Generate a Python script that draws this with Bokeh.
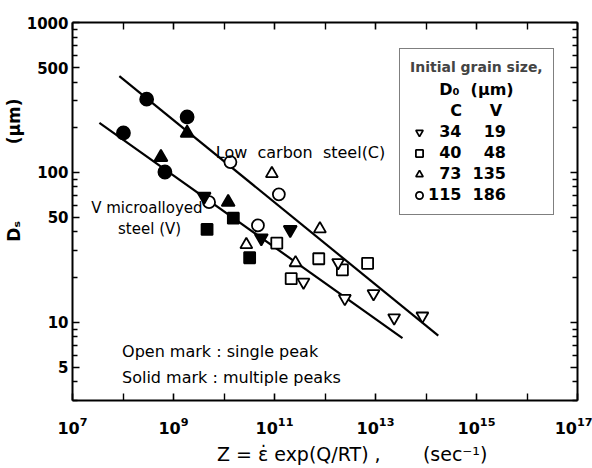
from bokeh.plotting import figure
from bokeh.models import (Range1d, LogAxis, FixedTicker, NumeralTickFormatter,
                          Label, Legend, LegendItem)
from bokeh.embed import file_html
from bokeh.resources import INLINE

# ---------------- data ----------------
# Z = strain rate * exp(Q/RT)  [1/s],  Ds = steady-state grain size [um]
open_circle_z = [1.34e10, 1.22e11, 5.06e9, 4.70e10]
open_circle_d = [117, 71.3, 63.2, 44.2]
solid_circle_z = [2.94e8, 1.86e9, 1.02e8, 6.76e8]
solid_circle_d = [308, 234, 183, 100.5]

open_tri_z = [8.87e10, 7.93e11, 2.77e10, 2.61e11]
open_tri_d = [98, 41.9, 32.9, 24.9]
solid_tri_z = [1.86e9, 5.64e8, 1.21e10]
solid_tri_d = [183, 126, 63.2]

open_sq_z = [7.52e11, 2.21e12, 6.97e12, 1.11e11, 2.14e11]
open_sq_d = [26.5, 22.3, 24.7, 33.7, 19.5]
solid_sq_z = [1.53e10, 4.62e9, 3.22e10]
solid_sq_d = [49.4, 41.6, 26.9]

open_inv_z = [1.82e12, 9.14e12, 8.49e13, 3.75e11, 2.47e12, 2.34e13]
open_inv_d = [25.0, 15.5, 11.0, 18.5, 14.4, 10.7]
solid_inv_z = [2.05e11, 4.04e9, 5.48e10]
solid_inv_d = [41.4, 69.0, 36.4]

# fitted lines
line_c_z = [8.47e7, 1.75e14]
line_c_d = [439, 8.13]
line_v_z = [3.41e7, 3.42e13]
line_v_d = [214, 7.83]

# legend values: initial grain size D0 (um)
legend_c = ["34", "40", "73", "115"]
legend_v = ["19", "48", "135", "186"]

# ticks
x_major = [10.0 ** e for e in (7, 9, 11, 13, 15, 17)]
x_minor = [10.0 ** e for e in (8, 10, 12, 14, 16)]
y_major = [5, 10, 50, 100, 500, 1000]
y_minor = [3, 4, 6, 7, 8, 9, 20, 30, 40, 60, 70, 80, 90,
           200, 300, 400, 600, 700, 800, 900]

FONT = "DejaVu Sans"
NB = "\u00a0"
FS = "\u2007"   # figure space (digit width)

p = figure(width=592, height=468, x_axis_type="log", y_axis_type="log",
           x_range=Range1d(1e7, 1e17), y_range=Range1d(3, 1000),
           output_backend="svg", toolbar_location=None,
           min_border_left=72, min_border_right=15,
           min_border_top=22, min_border_bottom=68,
           background_fill_color="white", border_fill_color="white",
           outline_line_color=None)
p.grid.visible = False

xt = FixedTicker(ticks=x_major, minor_ticks=x_minor)
yt = FixedTicker(ticks=y_major, minor_ticks=y_minor)

def style_axis(ax, labels=True):
    ax.axis_line_color = "black"
    ax.axis_line_width = 2
    ax.major_tick_line_color = "black"
    ax.major_tick_line_width = 1.6
    ax.minor_tick_line_color = "black"
    ax.minor_tick_line_width = 1.4
    ax.major_tick_in = 7
    ax.major_tick_out = 0
    ax.minor_tick_in = 5
    ax.minor_tick_out = 0
    ax.major_label_text_font = FONT
    ax.major_label_text_font_style = "bold"
    ax.major_label_text_color = "black"
    if not labels:
        ax.major_label_text_font_size = "1px"
        ax.major_label_text_color = None
        ax.major_label_standoff = 0

xa = p.xaxis[0]
xa.ticker = xt
style_axis(xa)
xa.minor_tick_in = 7
xa.major_label_text_font_size = "16px"
xa.major_label_standoff = 16
xa.axis_label = NB * 9 + "Z = \u03b5\u0307 exp(Q/RT) ," + NB * 7 + "(sec\u207b\u00b9)"
xa.axis_label_text_font = FONT
xa.axis_label_text_font_size = "19px"
xa.axis_label_text_font_style = "normal"
xa.axis_label_text_color = "black"
xa.axis_label_standoff = 6

ya = p.yaxis[0]
ya.ticker = yt
ya.formatter = NumeralTickFormatter(format="0")
style_axis(ya)
ya.major_label_text_font_size = "15px"
ya.major_label_standoff = 4
ya.axis_label = NB * 14 + "D\u209b" + NB * 13 + "(\u00b5m)"
ya.axis_label_text_font = FONT
ya.axis_label_text_font_size = "17px"
ya.axis_label_text_font_style = "bold"
ya.axis_label_text_color = "black"
ya.axis_label_standoff = 0

top = LogAxis(ticker=xt)
style_axis(top, labels=False)
top.minor_tick_in = 7
p.add_layout(top, "above")

right = LogAxis(ticker=yt)
style_axis(right, labels=False)
p.add_layout(right, "right")

# fitted lines
p.line(line_c_z, line_c_d, line_color="black", line_width=2.2)
p.line(line_v_z, line_v_d, line_color="black", line_width=2.2)

def pts(z, d, marker, filled, size):
    return p.scatter(z, d, marker=marker, size=size,
                     fill_color="black" if filled else "white",
                     line_color="black", line_width=1.8)

r_oc = pts(open_circle_z, open_circle_d, "circle", False, 12)
pts(solid_circle_z, solid_circle_d, "circle", True, 13)
r_ot = pts(open_tri_z, open_tri_d, "triangle", False, 12)
pts(solid_tri_z, solid_tri_d, "triangle", True, 13)
r_os = pts(open_sq_z, open_sq_d, "square", False, 11)
pts(solid_sq_z, solid_sq_d, "square", True, 11)
r_oi = pts(open_inv_z, open_inv_d, "inverted_triangle", False, 12)
pts(solid_inv_z, solid_inv_d, "inverted_triangle", True, 13)

# invisible renderer for legend header rows
r_blank = p.scatter([1e7], [3], marker="circle", size=1,
                    fill_alpha=0, line_alpha=0)

def row(c, v):
    return FS * (3 - len(c)) + c + NB * 2 + FS * (3 - len(v)) + v

items = [
    LegendItem(label=FS + "D\u2080" + NB * 2 + "(\u00b5m)", renderers=[r_blank]),
    LegendItem(label=FS + NB * 2 + "C" + NB * 5 + "V", renderers=[r_blank]),
]
for r, c, v in zip([r_oi, r_os, r_ot, r_oc], legend_c, legend_v):
    items.append(LegendItem(label=row(c, v), renderers=[r]))

legend = Legend(items=items, title="Initial grain size,",
                location=(327, 185), orientation="vertical",
                border_line_color="black", border_line_width=1.8,
                background_fill_color="white", background_fill_alpha=1,
                padding=10, spacing=2, margin=0,
                glyph_width=18, glyph_height=18, label_height=18,
                label_standoff=0,
                label_text_font=FONT, label_text_font_style="bold",
                label_text_font_size="16px", label_text_color="black",
                title_text_font=FONT, title_text_font_style="bold",
                title_text_font_size="14px", title_standoff=5)
p.add_layout(legend, "center")

def lab(x, y, text, size):
    p.add_layout(Label(x=x, y=y, text=text, text_font=FONT,
                       text_font_size=size, text_color="black",
                       text_baseline="middle", text_align="left"))

lab(6.87e9, 136, "Low" + NB * 2 + "carbon" + NB * 2 + "steel(C)", "16px")
lab(2.34e7, 57.4, "V microalloyed", "15px")
lab(7.98e7, 41.6, "steel (V)", "15px")
lab(9.57e7, 6.35, "Open mark : single peak", "16px")
lab(9.57e7, 4.26, "Solid mark : multiple peaks", "16px")

open("out.html", "w").write(file_html(p, INLINE))
